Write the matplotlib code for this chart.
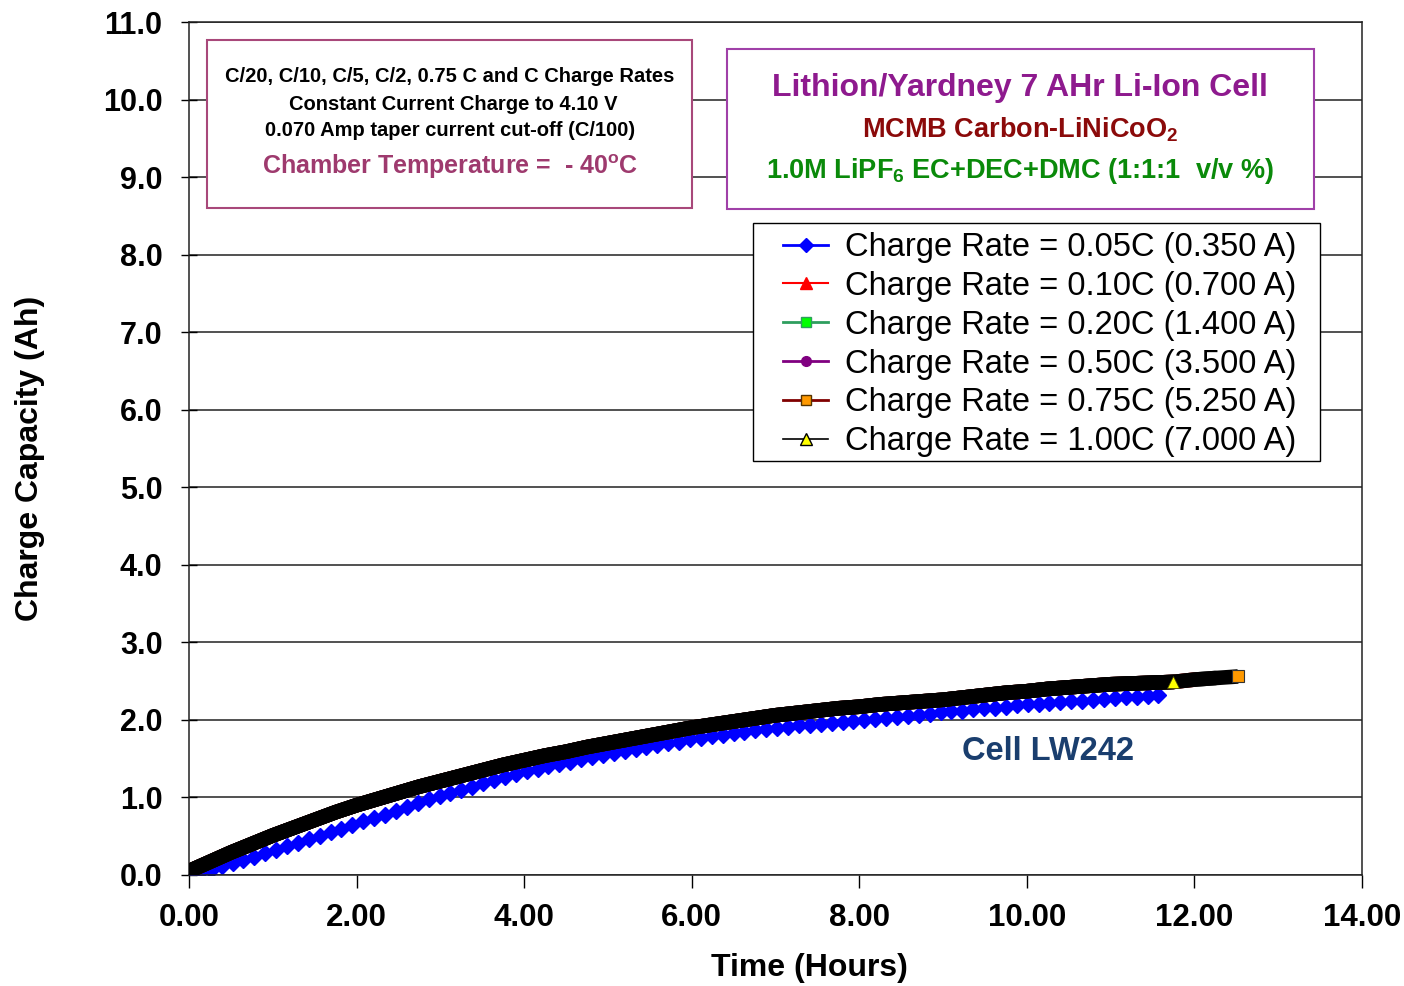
import matplotlib
matplotlib.use("Agg")
import matplotlib.pyplot as plt
from matplotlib.lines import Line2D
from matplotlib.patches import Rectangle

plt.rcParams['font.family'] = ['Liberation Sans', 'DejaVu Sans']
plt.rcParams['mathtext.fontset'] = 'custom'
plt.rcParams['mathtext.rm'] = 'Liberation Sans'
plt.rcParams['mathtext.bf'] = 'Liberation Sans:bold'

# ---- charge capacity (Ah) vs time (h), cell LW242 at -40 C ----
# C/20 run, one reading per point
t_005 = [0.00, 0.13, 0.26, 0.39, 0.52, 0.65, 0.78, 0.91, 1.04, 1.17, 1.30, 1.43, 1.56, 1.69, 1.82,
         1.95, 2.08, 2.21, 2.34, 2.47, 2.60, 2.73, 2.86, 2.99, 3.12, 3.25, 3.38, 3.51, 3.64, 3.77,
         3.90, 4.03, 4.16, 4.29, 4.42, 4.55, 4.68, 4.81, 4.94, 5.07, 5.20, 5.33, 5.46, 5.59, 5.72,
         5.85, 5.98, 6.11, 6.24, 6.37, 6.50, 6.63, 6.76, 6.89, 7.02, 7.15, 7.28, 7.41, 7.54, 7.67,
         7.80, 7.93, 8.06, 8.19, 8.32, 8.45, 8.58, 8.71, 8.84, 8.97, 9.10, 9.23, 9.36, 9.49, 9.62,
         9.75, 9.88, 10.01, 10.14, 10.27, 10.40, 10.53, 10.66, 10.79, 10.92, 11.05, 11.18, 11.31,
         11.44, 11.57]
q_005 = [0.00, 0.04, 0.07, 0.11, 0.15, 0.19, 0.23, 0.28, 0.32, 0.37, 0.41, 0.46, 0.50, 0.55, 0.59,
         0.64, 0.69, 0.73, 0.78, 0.83, 0.88, 0.93, 0.98, 1.02, 1.06, 1.10, 1.14, 1.18, 1.22, 1.26,
         1.30, 1.34, 1.37, 1.40, 1.43, 1.46, 1.49, 1.52, 1.55, 1.57, 1.60, 1.63, 1.65, 1.68, 1.70,
         1.72, 1.75, 1.77, 1.79, 1.81, 1.83, 1.85, 1.87, 1.88, 1.90, 1.91, 1.93, 1.94, 1.95, 1.96,
         1.97, 1.98, 2.00, 2.01, 2.02, 2.04, 2.05, 2.06, 2.08, 2.10, 2.11, 2.12, 2.14, 2.15, 2.16,
         2.17, 2.19, 2.20, 2.21, 2.22, 2.23, 2.24, 2.25, 2.26, 2.27, 2.28, 2.29, 2.30, 2.31, 2.32]

# C/10 ... 1C runs are logged on a common time base
t_band = [0.00, 0.25, 0.50, 0.75, 1.00, 1.25, 1.50, 1.75, 2.00, 2.25, 2.50, 2.75, 3.00, 3.25,
          3.50, 3.75, 4.00, 4.25, 4.50, 4.75, 5.00, 5.25, 5.50, 5.75, 6.00, 6.25, 6.50, 6.75,
          7.00, 7.25, 7.50, 7.75, 8.00, 8.25, 8.50, 8.75, 9.00, 9.25, 9.50, 9.75, 10.00, 10.25,
          10.50, 10.75, 11.00, 11.25, 11.50, 11.75, 12.00, 12.25, 12.52]
q_075 = [0.05, 0.17, 0.29, 0.40, 0.51, 0.61, 0.71, 0.81, 0.90, 0.98, 1.06, 1.14, 1.21, 1.28,
         1.35, 1.42, 1.48, 1.54, 1.59, 1.65, 1.70, 1.75, 1.80, 1.85, 1.90, 1.94, 1.98, 2.02,
         2.06, 2.09, 2.12, 2.15, 2.17, 2.20, 2.22, 2.24, 2.26, 2.29, 2.32, 2.35, 2.37, 2.40,
         2.42, 2.44, 2.46, 2.47, 2.48, 2.49, 2.52, 2.54, 2.56]
# the other rates lie on the same curve and only stop earlier
q_010 = q_075[:49]
q_020 = q_075[:50]
q_050 = q_075[:48]
q_100 = q_075[:48]

labels = ["Charge Rate = 0.05C (0.350 A)", "Charge Rate = 0.10C (0.700 A)",
          "Charge Rate = 0.20C (1.400 A)", "Charge Rate = 0.50C (3.500 A)",
          "Charge Rate = 0.75C (5.250 A)", "Charge Rate = 1.00C (7.000 A)"]

W, H = 1404, 986
fig = plt.figure(figsize=(W / 100, H / 100), dpi=100)
ax = fig.add_axes([189 / W, 1 - 875 / H, (1362 - 189) / W, (875 - 22) / H])

ax.set_ylim(0, 11)
ax.set_xlim(0, 14)
ax.set_yticks(range(0, 12))
ax.set_xticks(range(0, 15, 2))
ax.yaxis.grid(True, color='#222222', lw=1.1)
ax.set_axisbelow(True)
ax.set_yticklabels([f"{v:.1f}" for v in range(0, 12)], fontsize=22, fontweight='bold')
ax.set_xticklabels([f"{v:.2f}" for v in range(0, 15, 2)], fontsize=22.5, fontweight='bold')
ax.tick_params(axis='y', direction='inout', length=12, width=1, pad=13)
ax.tick_params(axis='x', direction='out', length=9, width=1, pad=11)
for s in ax.spines.values():
    s.set_color('#222222')
    s.set_linewidth(1.1)

# densely logged markers merge into one heavy band
band = 10.5
ax.plot(t_band[:len(q_010)], q_010, color='red', lw=band, solid_capstyle='round', zorder=3)
ax.plot(t_band[:len(q_020)], q_020, color='#111111', lw=band, solid_capstyle='round', zorder=3)
ax.plot(t_band[:len(q_050)], q_050, color='#111111', lw=band, solid_capstyle='round', zorder=3)
ax.plot(t_band[:len(q_075)], q_075, color='black', lw=band, solid_capstyle='butt', zorder=3)
ax.plot(t_band[:len(q_100)], q_100, color='black', lw=band, solid_capstyle='round', zorder=4)
ax.plot(t_band[len(q_075) - 1], q_075[-1], 's', ms=9, mfc='#FF9900', mec='#333333', mew=0.8, zorder=5)
ax.plot(t_band[len(q_100) - 1], q_100[-1], '^', ms=8, mfc='yellow', mec='#444400', mew=0.5, zorder=5)

# C/20 drawn with individual diamonds
ax.plot(t_005, q_005, color='blue', lw=1.2, marker='D', ms=8, mfc='blue', mec='blue', zorder=2)

ax.set_xlabel("Time (Hours)", fontsize=23, fontweight='bold')
ax.set_ylabel("Charge Capacity (Ah)", fontsize=23, fontweight='bold', ha='center', va='center')
ax.xaxis.set_label_coords((809 - 189) / 1173, (875 - 968) / 853)
ax.xaxis.label.set_va('center')
ax.yaxis.set_label_coords((30 - 189) / 1173, (875 - 458) / 853)


def fx(px):
    return px / W


def fy(py):
    return 1 - py / H


# legend frame drawn separately so the entries can sit inset from it
fig.add_artist(Rectangle((fx(753), fy(461)), fx(1320) - fx(753), fy(223) - fy(461),
                         transform=fig.transFigure, fc='white', ec='black', lw=1.0, zorder=5))
handles = [
    Line2D([], [], color='blue', lw=2, marker='D', ms=7, mfc='blue', mec='blue'),
    Line2D([], [], color='red', lw=1.5, marker='^', ms=8, mfc='red', mec='red'),
    Line2D([], [], color='#2E9E5E', lw=2, marker='s', ms=7, mfc='#00FF00', mec='#2E9E5E'),
    Line2D([], [], color='purple', lw=2, marker='o', ms=7, mfc='purple', mec='purple'),
    Line2D([], [], color='#800000', lw=2, marker='s', ms=7, mfc='#FF9900', mec='#553300'),
    Line2D([], [], color='black', lw=1.2, marker='^', ms=8, mfc='yellow', mec='black'),
]
leg = fig.legend(handles, labels, loc='upper left',
                 bbox_to_anchor=(fx(783), fy(232)), fontsize=23.5, frameon=False,
                 borderpad=0, labelspacing=0.24, handlelength=1.38, handletextpad=0.52,
                 borderaxespad=0)
leg.set_zorder(6)

# test conditions box
fig.add_artist(Rectangle((fx(207), fy(208)), fx(692) - fx(207), fy(40) - fy(208),
                         transform=fig.transFigure, fc='white', ec='#A8487A', lw=1.5, zorder=5))
fig.text(fx(450), fy(77), "C/20, C/10, C/5, C/2, 0.75 C and C Charge Rates",
         ha='center', va='center', fontsize=14.5, fontweight='bold', zorder=6)
fig.text(fx(453), fy(104), "Constant Current Charge to 4.10 V",
         ha='center', va='center', fontsize=14.5, fontweight='bold', zorder=6)
fig.text(fx(450), fy(131), "0.070 Amp taper current cut-off (C/100)",
         ha='center', va='center', fontsize=14.5, fontweight='bold', zorder=6)
fig.text(fx(450), fy(167), r"Chamber Temperature =  - 40$^{\mathbf{o}}$C",
         ha='center', va='center', fontsize=18, fontweight='bold', color='#9E3A6E', zorder=6)

# cell description box
fig.add_artist(Rectangle((fx(727), fy(209)), fx(1314) - fx(727), fy(49) - fy(209),
                         transform=fig.transFigure, fc='white', ec='#A040A8', lw=1.5, zorder=5))
fig.text(fx(1020), fy(88), "Lithion/Yardney 7 AHr Li-Ion Cell",
         ha='center', va='center', fontsize=23, fontweight='bold', color='#8E1A8E', zorder=6)
fig.text(fx(1020), fy(130), r"MCMB Carbon-LiNiCoO$_\mathbf{2}$",
         ha='center', va='center', fontsize=19.5, fontweight='bold', color='#8B0A0A', zorder=6)
fig.text(fx(1020), fy(171), r"1.0M LiPF$_\mathbf{6}$ EC+DEC+DMC (1:1:1  v/v %)",
         ha='center', va='center', fontsize=19.5, fontweight='bold', color='#0A8A0A', zorder=6)

ax.text((1048 - 189) / 83.8, (875 - 752) / 77.5, "Cell LW242", ha='center', va='center',
        fontsize=23.5, fontweight='bold', color='#1A3E6E')

fig.savefig("out.png", dpi=100)
